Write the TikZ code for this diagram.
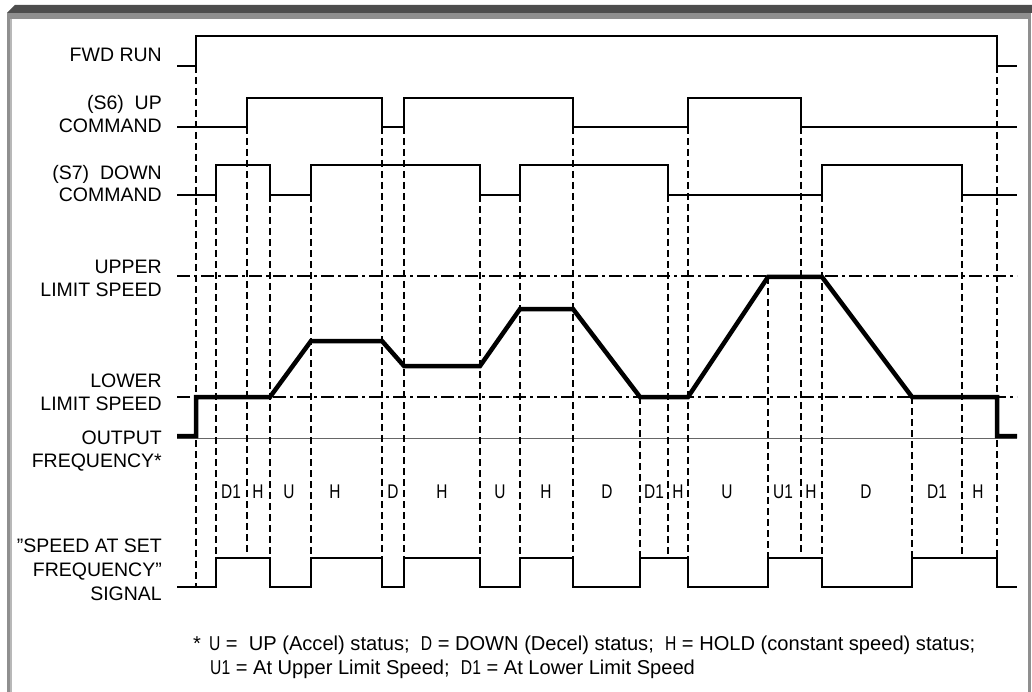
\documentclass[tikz,border=0pt]{standalone}
\usepackage{fontspec}
\setmainfont{Liberation Sans}
\newfontfamily\nf[FakeStretch=0.78]{Liberation Sans}
\definecolor{band}{HTML}{4D4D4D}
\definecolor{framegray}{HTML}{8F8F8F}
\definecolor{framelight}{HTML}{B8B8B8}
\begin{document}
\begin{tikzpicture}[x=1pt,y=-1pt,
  sig/.style={line width=2pt, line join=miter},
  freq/.style={line width=4.5pt, line join=miter},
  guide/.style={line width=1.6pt, dash pattern=on 7pt off 4pt},
  limit/.style={line width=1.8pt, dash pattern=on 13pt off 4pt on 3pt off 4pt},
  lbl/.style={inner sep=0pt, anchor=base east, font=\fontsize{19.5}{24}\selectfont},
  st/.style={inner sep=0pt, anchor=base, font=\fontsize{19.8}{24}\selectfont\nf},
  note/.style={inner sep=0pt, anchor=base west, font=\fontsize{20.1}{24}\selectfont}]
\useasboundingbox (0,0) rectangle (1032,692);
% frame
\fill[framegray] (7,13) rectangle (1031,692);
\fill[framelight] (10,19) rectangle (12,692);
\fill[white] (12,19) rectangle (1028,692);
\fill[band] (7,13) -- (15,5) -- (1032,5) -- (1032,13) -- cycle;
% limit lines and baseline
\draw[limit] (177,276) -- (1017,276);
\draw[limit] (177,397) -- (1017,397);
\draw[line width=1pt, black!60] (177,438) -- (1017,438);
% guide lines
\foreach \x/\a/\b in {196/66/587, 216/195/558, 247/127/554, 270/195/558, 311/195/558,
  382/127/558, 404/127/558, 480/195/558, 520/195/558, 573/127/558, 640/397/558,
  668/195/554, 688/127/558, 768/277/558, 801/127/554, 822/195/558, 912/397/558,
  962/195/554, 997/66/558}
  \draw[guide] (\x,\a) -- (\x,\b);
% signals
\draw[sig] (177,66) -- (196,66) -- (196,36) -- (997,36) -- (997,66) -- (1017,66);
\draw[sig] (177,127) -- (247,127) -- (247,98) -- (382,98) -- (382,127) -- (404,127)
  -- (404,98) -- (573,98) -- (573,127) -- (688,127) -- (688,98) -- (801,98)
  -- (801,127) -- (1017,127);
\draw[sig] (177,195) -- (216,195) -- (216,165) -- (270,165) -- (270,195) -- (311,195)
  -- (311,165) -- (480,165) -- (480,195) -- (520,195) -- (520,165) -- (668,165)
  -- (668,195) -- (822,195) -- (822,165) -- (962,165) -- (962,195) -- (1017,195);
\draw[freq] (177,436) -- (196,436) -- (196,397) -- (270,397) -- (311,341) -- (382,341)
  -- (404,366) -- (480,366) -- (520,309) -- (573,309) -- (640,397) -- (688,397)
  -- (768,277) -- (822,277) -- (912,397) -- (997,397) -- (997,436) -- (1017,436);
\draw[sig] (177,587) -- (216,587) -- (216,558) -- (270,558) -- (270,587) -- (311,587)
  -- (311,558) -- (382,558) -- (382,587) -- (404,587) -- (404,558) -- (480,558)
  -- (480,587) -- (520,587) -- (520,558) -- (573,558) -- (573,587) -- (640,587)
  -- (640,558) -- (688,558) -- (688,587) -- (768,587) -- (768,558) -- (822,558)
  -- (822,587) -- (912,587) -- (912,558) -- (997,558) -- (997,587) -- (1017,587);
% labels
\node[lbl] (fwd) at (162,62) {FWD RUN};
\node[lbl] (up1) at (162,110) {(S6)~~UP};
\node[lbl] (up2) at (162,133) {COMMAND};
\node[lbl] (dn1) at (162,180) {(S7)~~DOWN};
\node[lbl] (dn2) at (162,202) {COMMAND};
\node[lbl] (ul1) at (162,273) {UPPER};
\node[lbl] (ul2) at (162,297) {LIMIT SPEED};
\node[lbl] (ll1) at (162,387) {LOWER};
\node[lbl] (ll2) at (162,410) {LIMIT SPEED};
\node[lbl] (of1) at (162,444) {OUTPUT};
\node[lbl] (of2) at (162,467) {FREQUENCY*};
\node[lbl] (sa1) at (162,552) {\symbol{34}SPEED AT SET};
\node[lbl] (sa2) at (162,576) {FREQUENCY\symbol{34}};
\node[lbl] (sa3) at (162,600) {SIGNAL};
% status letters
\foreach \x/\t [count=\i] in {231/D1, 258/H, 289/U, 335/H, 393/D, 442/H, 500/U, 546/H,
  607/D, 654/D1, 678/H, 727/U, 783/U1, 811/H, 866/D, 937/D1, 978/H}
  \node[st] (st\i) at (\x,498) {\t};
% footnote
\node[note] (n1) at (193,650) {*\hspace{8pt}{\nf U} =~~UP (Accel) status;~~{\nf D} = DOWN (Decel) status;~~{\nf H} = HOLD (constant speed) status;};
\node[note] (n2) at (210,674) {{\nf U1} = At Upper Limit Speed;~~{\nf D1} = At Lower Limit Speed};
\end{tikzpicture}
\end{document}
